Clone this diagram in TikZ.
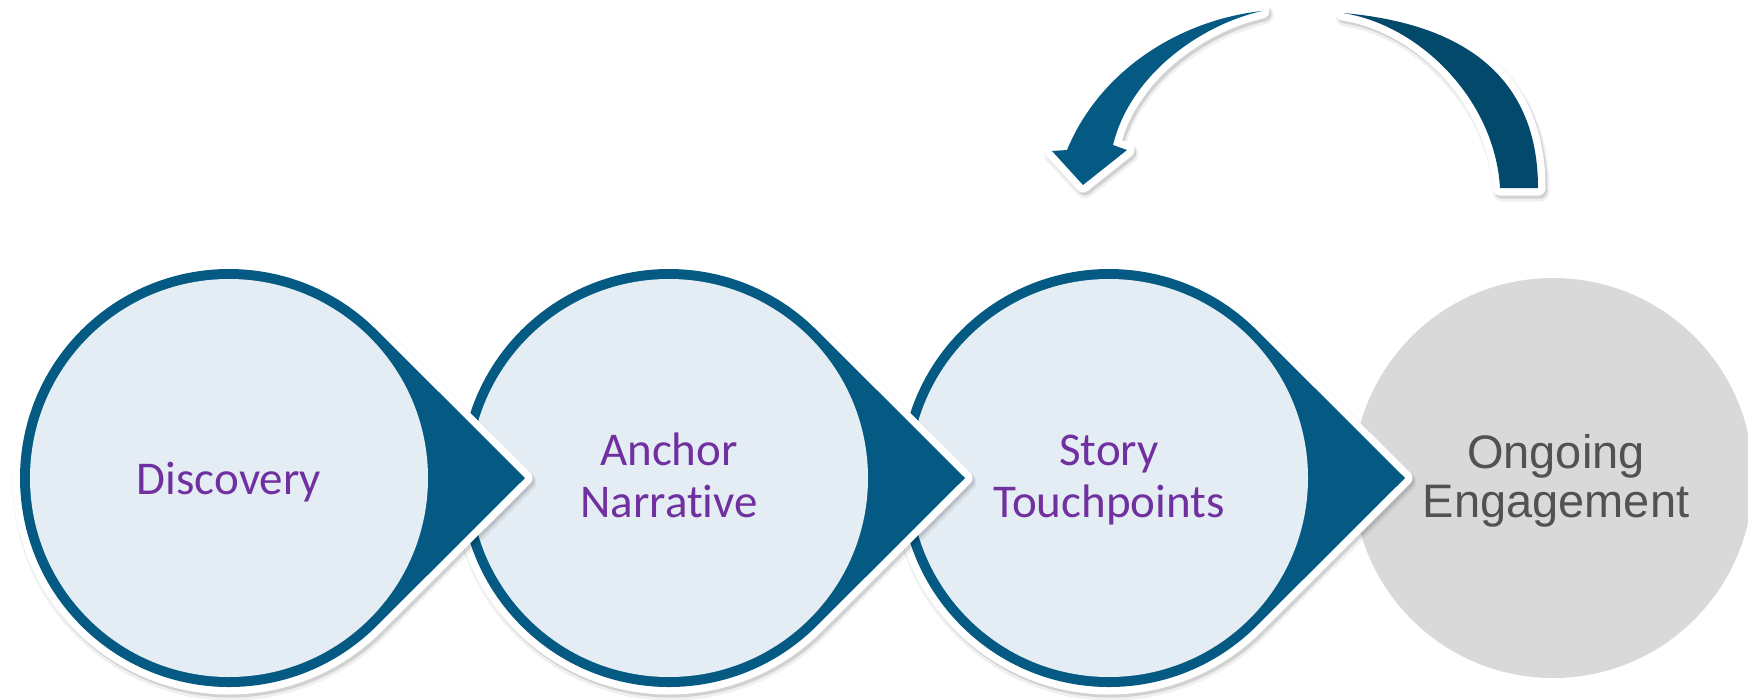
\documentclass[tikz,border=0pt]{standalone}
\usepackage{fontspec}
\newfontfamily\carlito[Ligatures={NoCommon}]{Carlito}
\newfontfamily\libsans{Liberation Sans}
\definecolor{stepblue}{HTML}{045A82}
\definecolor{tailblue}{HTML}{03496B}
\definecolor{palefill}{HTML}{E3EDF3}
\definecolor{greyfill}{HTML}{D9D9D9}
\definecolor{labelpurple}{HTML}{7030A0}
\definecolor{labelgrey}{HTML}{525252}
\tikzset{
  softshadow/.style={draw=black, draw opacity=0.06, line width=19pt, line join=round, fill=black, fill opacity=0.06},
  hardshadow/.style={draw=black, draw opacity=0.12, line width=15pt, line join=round, fill=black, fill opacity=0.12},
  bordered/.style={preaction={draw=white, line width=15pt, line join=round}, fill=#1},
  steplabel/.style={font=\carlito\fontsize{47pt}{52pt}\selectfont, text=labelpurple, align=center, inner sep=0pt},
  endlabel/.style={font=\libsans\fontsize{47pt}{49pt}\selectfont, text=labelgrey, align=center, inner sep=0pt},
}
\newcommand\stepdrop[1]{%
  \begin{scope}[shift={(#1,478)}]
    \path[softshadow, shift={(2,4)}] (296,0) -- (147.8,147.8) arc[start angle=45, end angle=315, radius=209] -- cycle;
    \path[hardshadow, shift={(2,3)}] (296,0) -- (147.8,147.8) arc[start angle=45, end angle=315, radius=209] -- cycle;
    \path[bordered=stepblue] (296,0) -- (147.8,147.8) arc[start angle=45, end angle=315, radius=209] -- cycle;
    \fill[palefill] (0,0) circle[radius=199];
  \end{scope}}
\begin{document}
\begin{tikzpicture}[x=1pt, y=-1pt]
\clip (0,0) rectangle (1748,699);
\fill[white] (0,0) rectangle (1748,699);
% last, grey circle
\fill[greyfill] (1553,478) circle[radius=200];
% step shapes, drawn right to left so each arrow lies on the next circle
\stepdrop{1109}
\stepdrop{669}
\stepdrop{229}
% labels
\node[steplabel] (discovery) at (229,482) {Discovery};
\node[steplabel] (anchor) at (669,475) {Anchor\\Narrative};
\node[steplabel] (story) at (1109,480) {Story\\Touchpoints};
\node[endlabel] (ongoing) at (1556,481) {Ongoing\\Engagement};
% curved return arrow: tail part
\def\tailpath{(1343,13) .. controls (1480,25) and (1538,90) .. (1538,188) -- (1500,188) .. controls (1495,100) and (1420,25) .. (1343,13) -- cycle}
\path[softshadow, shift={(2,4)}] \tailpath;
\path[hardshadow, shift={(2,3)}] \tailpath;
\path[bordered=tailblue] \tailpath;
% head part
\def\headpath{(1052,151) -- (1067,150) .. controls (1100,70) and (1180,20) .. (1262,11) .. controls (1200,25) and (1130,75) .. (1113,145) -- (1127,150) -- (1083,185) -- cycle}
\path[softshadow, shift={(2,4)}] \headpath;
\path[hardshadow, shift={(2,3)}] \headpath;
\path[bordered=stepblue] \headpath;
\end{tikzpicture}
\end{document}
